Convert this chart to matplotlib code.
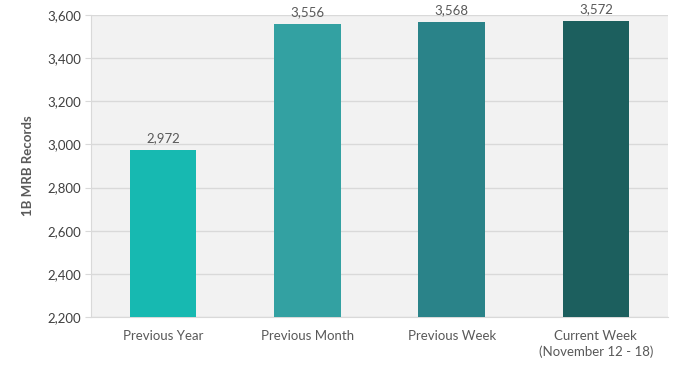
import matplotlib.pyplot as plt
import numpy as np

categories = ["Previous Year", "Previous Month", "Previous Week", "Current Week\n(November 12 - 18)"]
values = [2972, 3556, 3568, 3572]
colors = ["#17b9b1", "#33a1a2", "#2a8389", "#1c5f5e"]

plt.rcParams['font.family'] = ['Lato', 'DejaVu Sans']

fig = plt.figure(figsize=(6.83, 3.69), dpi=100)
ax = fig.add_axes([91/683, 1-317/369, (668-91)/683, (317-15)/369])
ax.set_facecolor("#f2f2f2")

x = np.arange(len(categories))
bars = ax.bar(x, values, width=0.46, color=colors, zorder=3)
for xi, v in zip(x, values):
    ax.text(xi, v + 28, f"{v:,}", ha="center", va="bottom", fontsize=9.5, color="#595959", zorder=4)

ax.set_xlim(-0.5, 3.5)
ax.set_ylim(2200, 3600)
ax.set_yticks(np.arange(2200, 3601, 200))
ax.yaxis.set_major_formatter(plt.FuncFormatter(lambda v, p: f"{int(v):,}"))
ax.set_xticks(x)
ax.set_xticklabels(categories, linespacing=1.35)
ax.grid(axis="y", color="#d9d9d9", linewidth=1, zorder=0)
for s in ["top", "right"]:
    ax.spines[s].set_visible(False)
ax.spines["left"].set_color("#d9d9d9")
ax.spines["bottom"].set_color("#d9d9d9")
ax.tick_params(axis="y", length=4, color="#d9d9d9", labelsize=9.5, labelcolor="#404040", pad=3)
ax.tick_params(axis="x", length=0, labelsize=9.5, labelcolor="#595959", pad=9)
ax.set_ylabel("1B MRB Records", fontsize=9.5, fontweight="bold", color="#595959", labelpad=10)

fig.savefig("out.png", dpi=100)
